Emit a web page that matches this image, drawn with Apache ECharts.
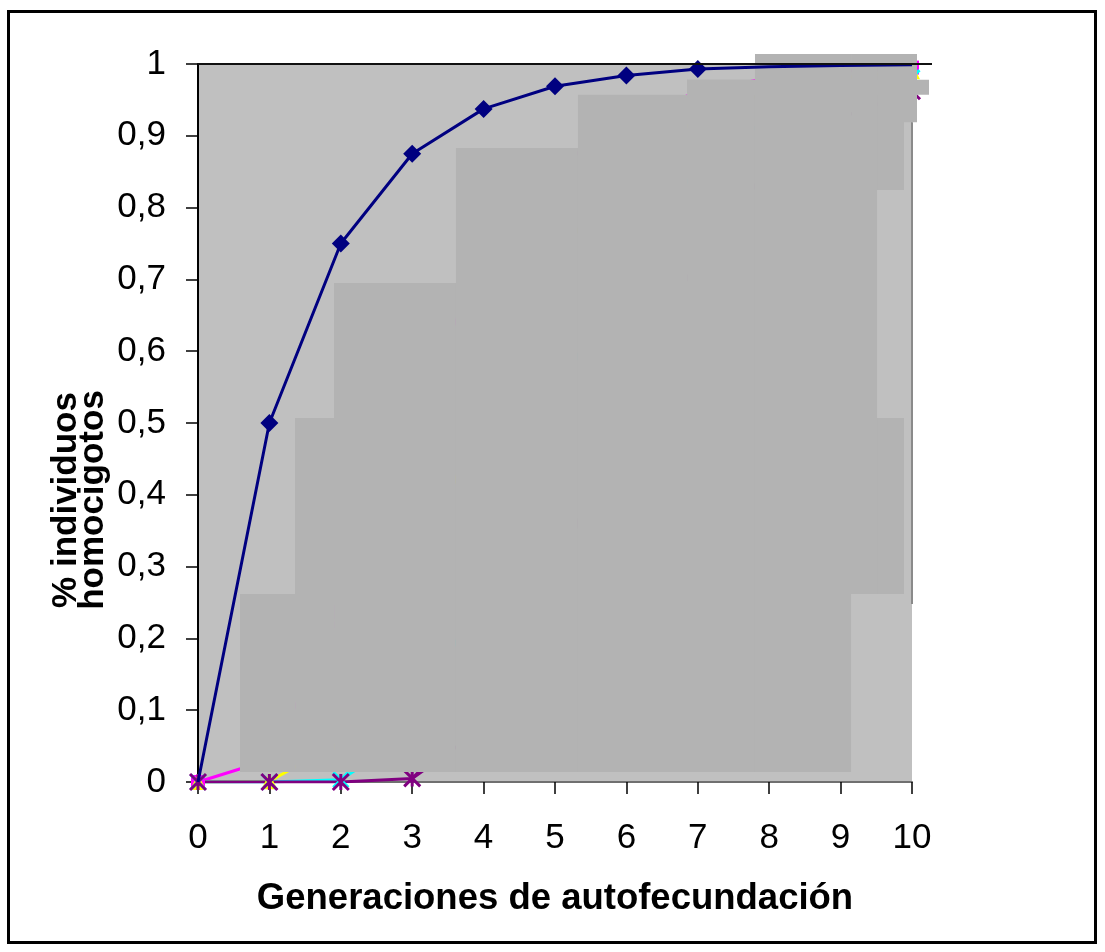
<!DOCTYPE html>
<html>
<head>
<meta charset="utf-8">
<script src="https://cdn.jsdelivr.net/npm/echarts@6/dist/echarts.min.js"></script>
<style>
html,body{margin:0;padding:0;background:#fff;}
#chart{width:1105px;height:952px;}
</style>
</head>
<body>
<div id="chart"></div>
<script>
// ---- data ----
var generations = [0,1,2,3,4,5,6,7,8,9,10];
var xTickLabels = ['0','1','2','3','4','5','6','7','8','9','10'];
var yTickLabels = ['0','0,1','0,2','0,3','0,4','0,5','0,6','0,7','0,8','0,9','1'];
var serie1 = [0,0.5,0.75,0.875,0.9375,0.969,0.984,0.993,0.996,0.998,0.999];   // navy
var serie2 = [0,0.031,0.237,0.513,0.724,0.853,0.924,0.961,0.981,0.990,0.995]; // magenta
var serie3 = [0,0.001,0.056,0.263,0.524,0.728,0.854,0.924,0.962,0.981,0.990]; // yellow
var serie4 = [0,0.000,0.003,0.069,0.275,0.530,0.729,0.855,0.925,0.962,0.981]; // cyan
var serie5 = [0,0.000,0.000,0.005,0.076,0.281,0.532,0.731,0.855,0.925,0.962]; // purple
// grey blocks over the plot, in axis units: [x0, x1, y0, y1]
var shadeBlocks = [
  [0.588,1.359,0.014,0.262],
  [1.359,1.905,0.014,0.507],
  [1.905,3.613,0.014,0.695],
  [3.613,5.322,0.014,0.883],
  [5.322,6.849,0.014,0.957],
  [6.849,7.801,0.014,0.978],
  [7.801,9.146,0.014,1.014],
  [9.146,9.510,0.262,1.014],
  [9.510,9.888,0.8245,1.014],
  [9.510,9.888,0.262,0.507],
  [9.888,10.070,0.919,1.014],
  [6.849,10.238,0.957,0.978]
];
// frame lines in axis units: [x0, y0, x1, y1]
var frameLines = [
  [0,1,10.28,1],
  [10,0.919,10,0.248]
];

var FONT = "'Liberation Sans', Arial, sans-serif";
var chart = echarts.init(document.getElementById('chart'));

function pairs(arr){ return arr.map(function(v,i){ return [generations[i], v]; }); }

var asterisk = 'path://M0,0L10,10M10,0L0,10M5,0L5,10';
var xmark = 'path://M0,0L10,10M10,0L0,10';

var navyData = serie1.map(function(v,i){
  var item = {value:[generations[i], v]};
  if (i === 0 || i >= 8) item.symbol = 'none';
  return item;
});

var option = {
  animation:false,
  backgroundColor:'#ffffff',
  grid:{left:198,right:193,top:64,bottom:170,show:true,backgroundColor:'#C0C0C0',borderWidth:0},
  xAxis:{
    type:'value',min:0,max:10,interval:1,
    name:'Generaciones de autofecundación',nameLocation:'middle',nameGap:98,
    nameTextStyle:{fontFamily:FONT,fontSize:36.5,fontWeight:'bold',color:'#000'},
    axisLine:{show:true,onZero:false,lineStyle:{color:'#707070',width:2}},
    axisTick:{show:true,length:12,lineStyle:{color:'#000',width:1.5}},
    axisLabel:{margin:39,fontFamily:FONT,fontSize:35,color:'#000',
      formatter:function(v){ return xTickLabels[Math.round(v)]; }},
    splitLine:{show:false}
  },
  yAxis:{
    type:'value',min:0,max:1,interval:0.1,
    axisLine:{show:true,lineStyle:{color:'#000',width:2}},
    axisTick:{show:true,length:12,lineStyle:{color:'#000',width:1.5}},
    axisLabel:{margin:32,fontFamily:FONT,fontSize:35,color:'#000',
      formatter:function(v){ return yTickLabels[Math.round(v*10)]; }},
    splitLine:{show:false}
  },
  graphic:[
    {type:'rect',shape:{x:8.5,y:11.5,width:1087,height:931},style:{fill:'none',stroke:'#000',lineWidth:3},z:100},
    {type:'text',x:80,y:500,rotation:Math.PI/2,
      style:{text:'% individuos\nhomocigotos',font:'bold 35px '+FONT,fill:'#000',
        textAlign:'center',textVerticalAlign:'middle',lineHeight:27},z:100}
  ],
  series:[
    {type:'line',data:pairs(serie2),z:2,symbol:'rect',symbolSize:14,
      lineStyle:{color:'#FF00FF',width:3},itemStyle:{color:'#FF00FF'}},
    {type:'line',data:pairs(serie3),z:2,symbol:'triangle',symbolSize:16,
      lineStyle:{color:'#FFFF00',width:3},itemStyle:{color:'#FFFF00'}},
    {type:'line',data:pairs(serie4),z:2,symbol:xmark,symbolSize:15,
      lineStyle:{color:'#00FFFF',width:3},itemStyle:{color:'#00FFFF',borderColor:'#00FFFF',borderWidth:3}},
    {type:'line',data:pairs(serie5),z:2,symbol:asterisk,symbolSize:16,
      lineStyle:{color:'#800080',width:3},itemStyle:{color:'#800080',borderColor:'#800080',borderWidth:3}},
    {type:'custom',z:3,clip:false,silent:true,
      encode:{x:[0,1],y:[2,3]},
      data:shadeBlocks,
      renderItem:function(params,api){
        var a = api.coord([api.value(0),api.value(3)]);
        var b = api.coord([api.value(1),api.value(2)]);
        return {type:'rect',shape:{x:a[0],y:a[1],width:b[0]-a[0],height:b[1]-a[1]},
          style:{fill:'#B3B3B3',stroke:null}};
      }},
    {type:'line',data:navyData,z:1,zlevel:0,symbol:'diamond',symbolSize:18,
      lineStyle:{color:'#000080',width:3},itemStyle:{color:'#000080'}},
    {type:'custom',z:5,clip:false,silent:true,
      encode:{x:[0,2],y:[1,3]},
      data:frameLines,
      renderItem:function(params,api){
        var a = api.coord([api.value(0),api.value(1)]);
        var b = api.coord([api.value(2),api.value(3)]);
        var vertical = params.dataIndex === 1;
        return {type:'line',shape:{x1:a[0],y1:a[1],x2:b[0],y2:b[1]},
          style:{stroke: vertical ? '#8a8a8a' : '#111', lineWidth: 2}};
      }}
  ]
};
option.series[5].z = 4;
chart.setOption(option);
</script>
</body>
</html>
